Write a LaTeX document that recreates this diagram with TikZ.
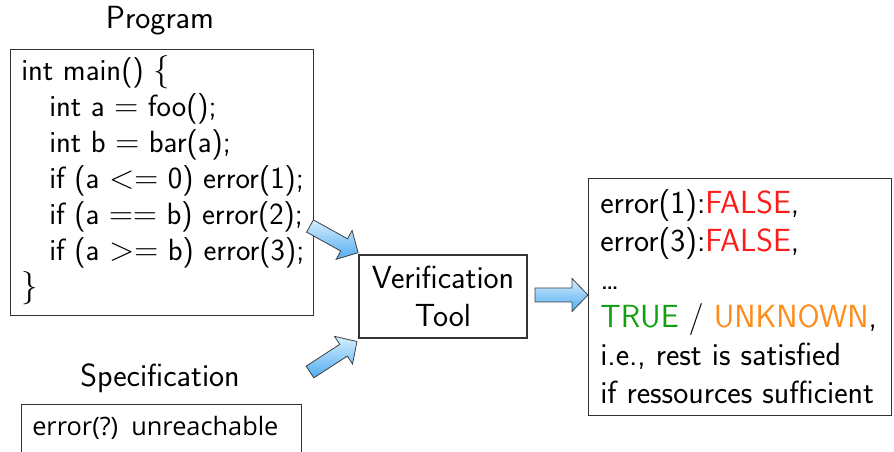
\documentclass[tikz,border=0pt]{standalone}
\usepackage{fontspec}
\newfontfamily\specfont{Open Sans}
\definecolor{arrowtop}{HTML}{D6EEFF}
\definecolor{arrowbot}{HTML}{4FACF0}
\definecolor{okgreen}{HTML}{11A011}
\definecolor{unkorange}{HTML}{FF8C1A}
\definecolor{falsered}{HTML}{FF1A1A}
\tikzset{
  boxed/.style={draw=black!80, line width=0.8pt, rectangle, inner sep=0pt},
  title/.style={font=\sffamily\fontsize{24}{28}\selectfont, inner sep=0pt},
  blockarrow/.style={draw=black!75, line width=0.6pt, line join=miter,
    top color=arrowtop, bottom color=arrowbot},
}
% block arrow: #1 start coordinate, #2 angle (deg, counter-clockwise on screen), #3 length (px)
\newcommand\myblockarrow[3]{%
  \begin{scope}[shift={#1}, rotate=#2]
    \path[blockarrow] (0,-7) -- ({#3-16},-7) -- ({#3-16},-16.5) -- (#3,0)
      -- ({#3-16},16.5) -- ({#3-16},7) -- (0,7) -- cycle;
  \end{scope}}
\begin{document}
\begin{tikzpicture}[x=0.75pt,y=-0.75pt]
\useasboundingbox (0,0) rectangle (894,452);
\clip (0,0) rectangle (894,452);
% titles
\node[title] (progtitle) at (160,21) {Program};
\node[title] (spectitle) at (160,378) {Specification};
% program box
\node[boxed, anchor=north west, minimum width=303*0.75pt, minimum height=266*0.75pt] (prog) at (10,49) {};
\node[anchor=north west, inner sep=0pt, align=left,
  font=\sffamily\fontsize{23}{27}\selectfont] (progtext) at (21,55)
  {int main() $\{$\\
   \hspace*{21pt}int a $=$ foo();\\
   \hspace*{21pt}int b $=$ bar(a);\\
   \hspace*{21pt}if (a $<=$ 0) error(1);\\
   \hspace*{21pt}if (a $==$ b) error(2);\\
   \hspace*{21pt}if (a $>=$ b) error(3);\\
   $\}$};
% verification tool
\node[boxed, minimum width=168*0.75pt, minimum height=83*0.75pt, align=center,
  font=\sffamily\fontsize{24}{28}\selectfont] (tool) at (443,296.5)
  {Verification\\Tool};
% result box
\node[boxed, anchor=north west, minimum width=303*0.75pt, minimum height=237*0.75pt] (res) at (588,178) {};
\node[anchor=north west, inner sep=0pt, align=left,
  font=\sffamily\fontsize{24}{28.5}\selectfont] (restext) at (600,189)
  {error(1):\textcolor{falsered}{FALSE},\\
   error(3):\textcolor{falsered}{FALSE},\\
   \dots\\
   \textcolor{okgreen}{TRUE} / \textcolor{unkorange}{UNKNOWN},\\
   i.e., rest is satisfied\\
   if ressources sufficient};
% spec box
\node[boxed, anchor=north west, minimum width=280*0.75pt, minimum height=60*0.75pt] (spec) at (21,404) {};
\node[anchor=west, inner sep=0pt, font=\specfont\fontsize{19}{22}\selectfont] (spectext) at (32,428)
  {error(?)\ \ unreachable};
% arrows
\myblockarrow{(310,226)}{-29}{55}
\myblockarrow{(310,372)}{33}{56}
\myblockarrow{(535,295)}{0}{53}
\end{tikzpicture}
\end{document}
